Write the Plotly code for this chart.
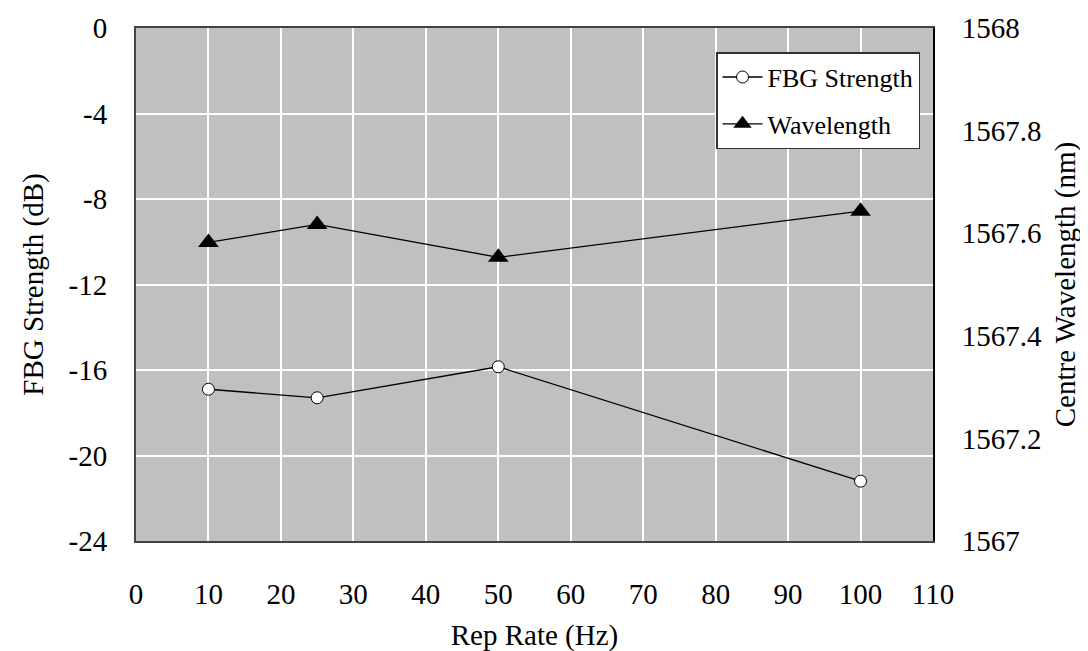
import plotly.graph_objects as go

rep_rate = [10, 25, 50, 100]
fbg_strength = [-16.9, -17.3, -15.85, -21.2]
wavelength = [1567.582, 1567.617, 1567.553, 1567.643]

x_ticks = [0, 10, 20, 30, 40, 50, 60, 70, 80, 90, 100, 110]
y_left_ticks = [0, -4, -8, -12, -16, -20, -24]
y_left_labels = ["0", "-4", "-8", "-12", "-16", "-20", "-24"]
y_right_ticks = [1567, 1567.2, 1567.4, 1567.6, 1567.8, 1568]
y_right_labels = ["1567", "1567.2", "1567.4", "1567.6", "1567.8", "1568"]

FONT = "Liberation Serif, Times New Roman, serif"
FS = 29

fig = go.Figure()
fig.add_trace(go.Scatter(
    x=rep_rate, y=fbg_strength, name="FBG Strength", mode="lines+markers",
    legendgroup="a",
    line=dict(color="black", width=1.3),
    marker=dict(symbol="circle", size=12, color="white", line=dict(color="black", width=1)),
    yaxis="y"))
fig.add_trace(go.Scatter(
    x=rep_rate, y=wavelength, name="Wavelength", mode="lines+markers",
    legendgroup="b",
    line=dict(color="black", width=1.3),
    marker=dict(symbol="triangle-up", size=18, color="black", line=dict(color="black", width=0)),
    yaxis="y2"))

fig.update_layout(
    width=1088, height=651,
    margin=dict(l=127.5, r=163, t=20, b=118),
    paper_bgcolor="white", plot_bgcolor="#C0C0C0",
    font=dict(family=FONT, size=FS, color="black"),
    showlegend=True,
    legend=dict(x=0.9837, y=0.953, xanchor="right", yanchor="top",
                bgcolor="white", bordercolor="#333", borderwidth=1.5,
                font=dict(family=FONT, size=26), tracegroupgap=10,
                itemwidth=40),
    xaxis=dict(range=[0, 110], tickvals=x_ticks, showgrid=True, gridcolor="white", gridwidth=1.5,
               zeroline=False, showline=True, linecolor="#444", linewidth=2, mirror=True,
               ticks="outside", ticklen=26, tickcolor="rgba(0,0,0,0)", automargin=False,
               title=dict(text="Rep Rate (Hz)", standoff=16, font=dict(size=FS))),
    yaxis=dict(range=[-24, 0], tickvals=y_left_ticks, ticktext=y_left_labels,
               showgrid=True, gridcolor="white", gridwidth=1.5,
               zeroline=False, showline=True, linecolor="#444", linewidth=2, mirror=True,
               ticks="outside", ticklen=21, tickcolor="rgba(0,0,0,0)", automargin=False,
               title=dict(text="FBG Strength (dB)", standoff=16, font=dict(size=FS))),
    yaxis2=dict(range=[1567, 1568], tickvals=y_right_ticks, ticktext=y_right_labels,
                overlaying="y", side="right", showgrid=False, zeroline=False,
                showline=True, linecolor="black", linewidth=2,
                ticks="outside", ticklen=21, tickcolor="rgba(0,0,0,0)", automargin=False,
                title=dict(text="Centre Wavelength (nm)", standoff=14, font=dict(size=FS))),
)

fig.write_html("out.html")
